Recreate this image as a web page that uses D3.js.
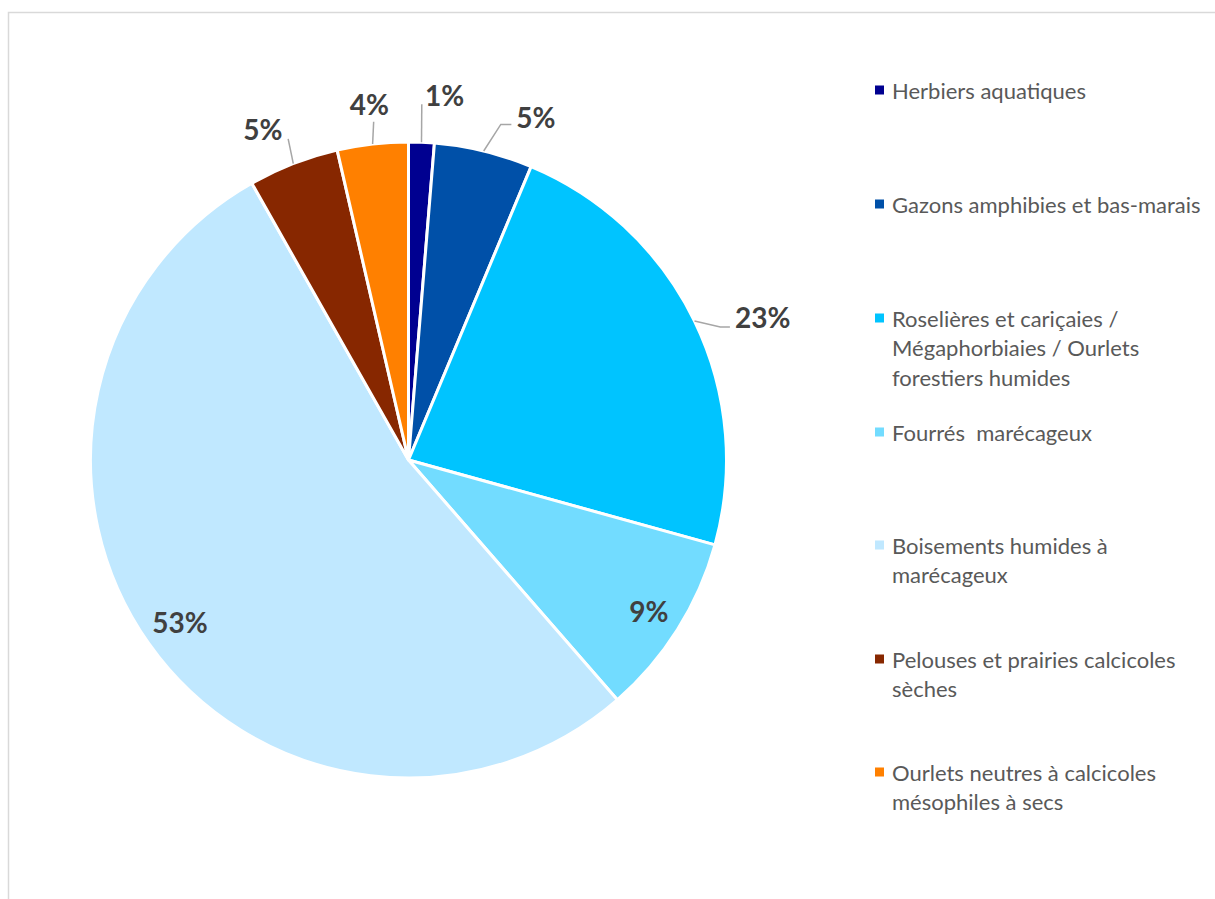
<!DOCTYPE html>
<html>
<head>
<meta charset="utf-8">
<script src="https://cdn.jsdelivr.net/npm/d3@7"></script>
<style>
  body { margin: 0; background: #fff; }
  svg { display: block; }
</style>
</head>
<body>
<div id="container"></div>
<script>
/* DATA */
const categories = [
  "Herbiers aquatiques",
  "Gazons amphibies et bas-marais",
  "Roselières et cariçaies / Mégaphorbiaies / Ourlets forestiers humides",
  "Fourrés  marécageux",
  "Boisements humides à marécageux",
  "Pelouses et prairies calcicoles sèches",
  "Ourlets neutres à calcicoles mésophiles à secs"
];
const shares = [1.3, 5.0, 23.0, 9.3, 53.2, 4.6, 3.6];
const legendLines = [
  ["Herbiers aquatiques"],
  ["Gazons amphibies et bas-marais"],
  ["Roselières et cariçaies /", "Mégaphorbiaies / Ourlets", "forestiers humides"],
  ["Fourrés  marécageux"],
  ["Boisements humides à", "marécageux"],
  ["Pelouses et prairies calcicoles", "sèches"],
  ["Ourlets neutres à calcicoles", "mésophiles à secs"]
];

/* CONSTANTS */
const width = 1215, height = 899;
const cx = 408.5, cy = 460, R = 318;
const colors = ["#000090", "#0050A8", "#00C4FF", "#72DCFF", "#C0E8FF", "#872700", "#FF8000"];

// label placement: inside labels sit on an inner ring, outside ones get a leader
// r/da = text radius + angle nudge (deg), er/eda = leader elbow, hook = horizontal tail
const labelLayout = [
  { out: true, r: 367, da: 3.3, er: 356, eda: -0.2, hook: false },
  { out: true, r: 366, da: 6.7, er: 348, eda: 1.7, hook: true },
  { out: true, r: 382, da: 3.9, er: 339, eda: 2.8, hook: true },
  { out: false, r: 284 },
  { out: false, r: 280 },
  { out: true, r: 362, da: -2.5, er: 343, eda: 0.7, hook: false },
  { out: true, r: 358, da: 0.2, er: 340, eda: 0.6, hook: false }
];

const svg = d3.select("#container")
  .append("svg")
  .attr("width", width)
  .attr("height", height);

// chart area border
svg.append("rect")
  .attr("x", 8.5).attr("y", 12.5)
  .attr("width", width).attr("height", height)
  .attr("fill", "none")
  .attr("stroke", "#D9D9D9")
  .attr("stroke-width", 1.5);

const pie = d3.pie().sort(null).value(d => d)(shares);
const arc = d3.arc().innerRadius(0).outerRadius(R);

const g = svg.append("g").attr("transform", `translate(${cx},${cy})`);

g.selectAll("path.slice")
  .data(pie)
  .join("path")
  .attr("class", "slice")
  .attr("d", arc)
  .attr("fill", (d, i) => colors[i])
  .attr("stroke", "#fff")
  .attr("stroke-width", 3)
  .attr("stroke-linejoin", "round");

const polar = (r, a) => [r * Math.sin(a), -r * Math.cos(a)];
const rad = deg => deg * Math.PI / 180;

pie.forEach((d, i) => {
  const L = labelLayout[i];
  const mid = (d.startAngle + d.endAngle) / 2;
  const txt = Math.round(d.value) + "%";
  const pos = L.out ? polar(L.r, mid + rad(L.da)) : polar(L.r, mid);
  const label = g.append("text")
    .attr("x", pos[0]).attr("y", pos[1])
    .attr("text-anchor", "middle")
    .attr("dominant-baseline", "central")
    .attr("font-family", "Lato, sans-serif")
    .attr("font-weight", "bold")
    .attr("font-size", 28)
    .attr("fill", "#404040")
    .text(txt);
  if (!L.out) return;
  const w = label.node().getComputedTextLength();
  const p0 = polar(R, mid);
  const p1 = polar(L.er, mid + rad(L.eda));
  const pts = [p0, p1];
  if (L.hook) pts.push([pos[0] - w / 2 - 5, p1[1]]);
  g.insert("path", "text")
    .attr("d", d3.line()(pts))
    .attr("fill", "none")
    .attr("stroke", "#A6A6A6")
    .attr("stroke-width", 1.5);
});

// LEGEND
const legendY = [90, 204, 318, 432, 545, 659, 772];
const legend = svg.append("g").attr("transform", "translate(875,0)");
legendLines.forEach((lines, i) => {
  legend.append("rect")
    .attr("x", 0).attr("y", legendY[i] - 4.5)
    .attr("width", 9).attr("height", 9)
    .attr("fill", colors[i]);
  const t = legend.append("text")
    .attr("x", 17).attr("y", legendY[i])
    .attr("font-family", "Lato, sans-serif")
    .attr("font-size", 22)
    .attr("fill", "#595959")
    .attr("dominant-baseline", "central")
    .style("white-space", "pre");
  lines.forEach((line, j) => {
    t.append("tspan")
      .attr("x", 17)
      .attr("dy", j === 0 ? 0 : 29.3)
      .text(line);
  });
});
</script>
</body>
</html>
